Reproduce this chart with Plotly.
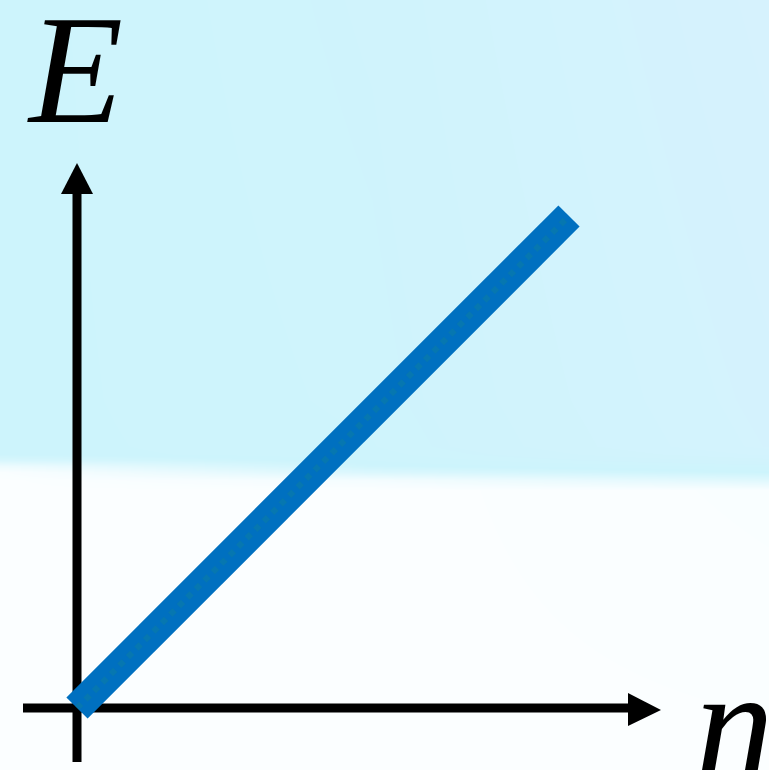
import plotly.graph_objects as go

# ---- data (linear relation E vs n) ----
n_values = [0.0, 1.0]
E_values = [0.0, 1.0]
axis_labels = {"x": "n", "y": "E"}

W, H = 769, 770
# pixel geometry of the data frame
ORIGIN_PX = (77, 708)
UNIT_PX = 492.0

x_range = [-ORIGIN_PX[0] / UNIT_PX, (W - ORIGIN_PX[0]) / UNIT_PX]
y_range = [-(H - ORIGIN_PX[1]) / UNIT_PX, ORIGIN_PX[1] / UNIT_PX]

def px_x(p):
    return (p - ORIGIN_PX[0]) / UNIT_PX

def px_y(p):
    return (ORIGIN_PX[1] - p) / UNIT_PX

fig = go.Figure()

# ---- background gradient (cyan upper part, white lower part) ----
bg_x = [px_x(-60), px_x(0), px_x(372), px_x(769), px_x(830)]
bg_y = [px_y(800), px_y(490), px_y(480), px_y(472), px_y(466), px_y(460), px_y(454), px_y(446), px_y(400), px_y(0), px_y(-40)]
# columns: left .. right ; rows bottom .. top
col_left = [0, 0, 0, 0.02, 0.15, 0.38, 0.5, 0.5, 0.5, 0.5, 0.5]
col_mid = [0, 0, 0.08, 0.35, 0.48, 0.53, 0.56, 0.58, 0.6, 0.65, 0.65]
col_right = [0, 0.02, 0.3, 0.5, 0.6, 0.72, 0.82, 0.88, 0.9, 1.0, 1.0]
bg_z = [[col_left[i], col_left[i], col_mid[i], col_right[i], col_right[i]] for i in range(len(bg_y))]
fig.add_trace(go.Heatmap(
    x=bg_x, y=bg_y, z=bg_z, zmin=0, zmax=1, zsmooth="best",
    colorscale=[[0, "rgb(251,254,255)"], [0.5, "rgb(205,244,252)"], [1, "rgb(214,242,253)"]],
    showscale=False, hoverinfo="skip",
))

# ---- axis lines (drawn beneath the data line) ----
axis_w = 9
axis_style = dict(color="black", width=axis_w)
fig.add_trace(go.Scatter(x=[px_x(23), px_x(632)], y=[0, 0], mode="lines",
                         line=axis_style, hoverinfo="skip", showlegend=False))
fig.add_trace(go.Scatter(x=[0, 0], y=[px_y(762), px_y(190)], mode="lines",
                         line=axis_style, hoverinfo="skip", showlegend=False))

# ---- the linear line ----
fig.add_trace(go.Scatter(
    x=n_values, y=E_values, mode="lines",
    line=dict(color="rgb(0,112,192)", width=30),
    hoverinfo="skip", showlegend=False,
))
fig.add_trace(go.Scatter(
    x=n_values, y=E_values, mode="lines",
    line=dict(color="rgba(20,135,140,0.3)", width=6, dash="dot"),
    hoverinfo="skip", showlegend=False,
))

# ---- arrow heads ----
shapes = [
    dict(type="path",
         path=f"M {px_x(628)},{px_y(693)} L {px_x(661)},{px_y(710)} L {px_x(628)},{px_y(726)} Z",
         fillcolor="black", line=dict(width=0), layer="above"),
    dict(type="path",
         path=f"M {px_x(61)},{px_y(194)} L {px_x(77)},{px_y(163)} L {px_x(93)},{px_y(194)} Z",
         fillcolor="black", line=dict(width=0), layer="above"),
]

annotations = [
    dict(x=px_x(75), y=px_y(70), xref="x", yref="y", text=axis_labels["y"],
         showarrow=False, xanchor="center", yanchor="middle",
         font=dict(family="Liberation Serif", size=154, color="black", style="italic")),
    dict(x=px_x(734), y=px_y(724), xref="x", yref="y", text=axis_labels["x"],
         showarrow=False, xanchor="center", yanchor="middle",
         font=dict(family="Liberation Serif", size=158, color="black", style="italic")),
]

fig.update_layout(
    width=W, height=H,
    margin=dict(l=0, r=0, t=0, b=0),
    paper_bgcolor="white", plot_bgcolor="white",
    xaxis=dict(range=x_range, visible=False, fixedrange=True),
    yaxis=dict(range=y_range, visible=False, fixedrange=True),
    shapes=shapes, annotations=annotations,
    showlegend=False,
)

fig.write_html("out.html", config={"displayModeBar": False},
               post_script="document.body.style.margin='0';document.body.style.overflow='hidden';")
